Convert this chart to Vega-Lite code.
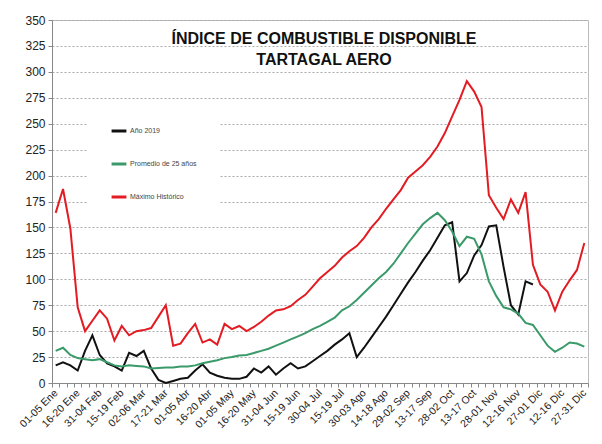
{
  "$schema": "https://vega.github.io/schema/vega-lite/v6.json",
  "width": 536,
  "height": 363,
  "autosize": "none",
  "padding": {"left": 52, "top": 20, "right": 14, "bottom": 61},
  "background": "white",
  "title": {
    "text": ["ÍNDICE DE COMBUSTIBLE DISPONIBLE", "TARTAGAL AERO"],
    "font": "Liberation Sans",
    "fontSize": 16,
    "fontWeight": "bold",
    "color": "#111111",
    "anchor": "middle",
    "baseline": "top",
    "lineHeight": 21,
    "offset": -54,
    "dx": 4
  },
  "data": {
    "values": [
      {"p": "01-05 Ene", "Año 2019": 17, "Promedio de 25 años": 31, "Máximo Histórico": 164},
      {"p": "06-10 Ene", "Año 2019": 20, "Promedio de 25 años": 34, "Máximo Histórico": 187},
      {"p": "11-15 Ene", "Año 2019": 17, "Promedio de 25 años": 27, "Máximo Histórico": 149},
      {"p": "16-20 Ene", "Año 2019": 12, "Promedio de 25 años": 24, "Máximo Histórico": 73},
      {"p": "21-25 Ene", "Año 2019": 31, "Promedio de 25 años": 23, "Máximo Histórico": 50},
      {"p": "26-30 Ene", "Año 2019": 46, "Promedio de 25 años": 22, "Máximo Histórico": 60},
      {"p": "31-04 Feb", "Año 2019": 27, "Promedio de 25 años": 23, "Máximo Histórico": 70},
      {"p": "05-09 Feb", "Año 2019": 19, "Promedio de 25 años": 20, "Máximo Histórico": 62},
      {"p": "10-14 Feb", "Año 2019": 16, "Promedio de 25 años": 17, "Máximo Histórico": 41},
      {"p": "15-19 Feb", "Año 2019": 12, "Promedio de 25 años": 16, "Máximo Histórico": 55},
      {"p": "20-24 Feb", "Año 2019": 29, "Promedio de 25 años": 17, "Máximo Histórico": 46},
      {"p": "25-01 Mar", "Año 2019": 26, "Promedio de 25 años": 16.5, "Máximo Histórico": 50},
      {"p": "02-06 Mar", "Año 2019": 31, "Promedio de 25 años": 16, "Máximo Histórico": 51},
      {"p": "07-11 Mar", "Año 2019": 14, "Promedio de 25 años": 14, "Máximo Histórico": 53},
      {"p": "12-16 Mar", "Año 2019": 3, "Promedio de 25 años": 14.5, "Máximo Histórico": 64},
      {"p": "17-21 Mar", "Año 2019": 0, "Promedio de 25 años": 15, "Máximo Histórico": 75},
      {"p": "22-26 Mar", "Año 2019": 2, "Promedio de 25 años": 15, "Máximo Histórico": 36},
      {"p": "27-31 Mar", "Año 2019": 4, "Promedio de 25 años": 16, "Máximo Histórico": 38},
      {"p": "01-05 Abr", "Año 2019": 5, "Promedio de 25 años": 16, "Máximo Histórico": 48},
      {"p": "06-10 Abr", "Año 2019": 12, "Promedio de 25 años": 17, "Máximo Histórico": 57},
      {"p": "11-15 Abr", "Año 2019": 18, "Promedio de 25 años": 19, "Máximo Histórico": 39},
      {"p": "16-20 Abr", "Año 2019": 10, "Promedio de 25 años": 20.5, "Máximo Histórico": 42},
      {"p": "21-25 Abr", "Año 2019": 7, "Promedio de 25 años": 22, "Máximo Histórico": 37},
      {"p": "26-30 Abr", "Año 2019": 5, "Promedio de 25 años": 24, "Máximo Histórico": 57},
      {"p": "01-05 May", "Año 2019": 4, "Promedio de 25 años": 25, "Máximo Histórico": 52},
      {"p": "06-10 May", "Año 2019": 4, "Promedio de 25 años": 26.5, "Máximo Histórico": 55},
      {"p": "11-15 May", "Año 2019": 6, "Promedio de 25 años": 27, "Máximo Histórico": 50},
      {"p": "16-20 May", "Año 2019": 14, "Promedio de 25 años": 29, "Máximo Histórico": 54},
      {"p": "21-25 May", "Año 2019": 10, "Promedio de 25 años": 31, "Máximo Histórico": 59},
      {"p": "26-30 May", "Año 2019": 16, "Promedio de 25 años": 33, "Máximo Histórico": 65},
      {"p": "31-04 Jun", "Año 2019": 8, "Promedio de 25 años": 36, "Máximo Histórico": 70},
      {"p": "05-09 Jun", "Año 2019": 14, "Promedio de 25 años": 39, "Máximo Histórico": 71},
      {"p": "10-14 Jun", "Año 2019": 19, "Promedio de 25 años": 42, "Máximo Histórico": 74},
      {"p": "15-19 Jun", "Año 2019": 14, "Promedio de 25 años": 45, "Máximo Histórico": 80},
      {"p": "20-24 Jun", "Año 2019": 16, "Promedio de 25 años": 48, "Máximo Histórico": 85},
      {"p": "25-29 Jun", "Año 2019": 21, "Promedio de 25 años": 52, "Máximo Histórico": 93},
      {"p": "30-04 Jul", "Año 2019": 26, "Promedio de 25 años": 55, "Máximo Histórico": 101},
      {"p": "05-09 Jul", "Año 2019": 31, "Promedio de 25 años": 59, "Máximo Histórico": 107},
      {"p": "10-14 Jul", "Año 2019": 37, "Promedio de 25 años": 63, "Máximo Histórico": 113},
      {"p": "15-19 Jul", "Año 2019": 42, "Promedio de 25 años": 70, "Máximo Histórico": 121},
      {"p": "20-24 Jul", "Año 2019": 48, "Promedio de 25 años": 74, "Máximo Histórico": 127},
      {"p": "25-29 Jul", "Año 2019": 25, "Promedio de 25 años": 80, "Máximo Histórico": 132},
      {"p": "30-03 Ago", "Año 2019": 34, "Promedio de 25 años": 87, "Máximo Histórico": 140},
      {"p": "04-08 Ago", "Año 2019": 44, "Promedio de 25 años": 94, "Máximo Histórico": 150},
      {"p": "09-13 Ago", "Año 2019": 54, "Promedio de 25 años": 101, "Máximo Histórico": 158},
      {"p": "14-18 Ago", "Año 2019": 64, "Promedio de 25 años": 107, "Máximo Histórico": 168},
      {"p": "19-23 Ago", "Año 2019": 75, "Promedio de 25 años": 115, "Máximo Histórico": 177},
      {"p": "24-28 Ago", "Año 2019": 86, "Promedio de 25 años": 125, "Máximo Histórico": 186},
      {"p": "29-02 Sep", "Año 2019": 97, "Promedio de 25 años": 135, "Máximo Histórico": 198},
      {"p": "03-07 Sep", "Año 2019": 107, "Promedio de 25 años": 144, "Máximo Histórico": 204},
      {"p": "08-12 Sep", "Año 2019": 118, "Promedio de 25 años": 153, "Máximo Histórico": 210},
      {"p": "13-17 Sep", "Año 2019": 128, "Promedio de 25 años": 159, "Máximo Histórico": 218},
      {"p": "18-22 Sep", "Año 2019": 140, "Promedio de 25 años": 164, "Máximo Histórico": 228},
      {"p": "23-27 Sep", "Año 2019": 152, "Promedio de 25 años": 157, "Máximo Histórico": 241},
      {"p": "28-02 Oct", "Año 2019": 155, "Promedio de 25 años": 146, "Máximo Histórico": 257},
      {"p": "03-07 Oct", "Año 2019": 98, "Promedio de 25 años": 132, "Máximo Histórico": 273},
      {"p": "08-12 Oct", "Año 2019": 106, "Promedio de 25 años": 141, "Máximo Histórico": 291},
      {"p": "13-17 Oct", "Año 2019": 123, "Promedio de 25 años": 139, "Máximo Histórico": 281},
      {"p": "18-22 Oct", "Año 2019": 133, "Promedio de 25 años": 124, "Máximo Histórico": 266},
      {"p": "23-27 Oct", "Año 2019": 151, "Promedio de 25 años": 98, "Máximo Histórico": 181},
      {"p": "28-01 Nov", "Año 2019": 152, "Promedio de 25 años": 84, "Máximo Histórico": 169},
      {"p": "02-06 Nov", "Año 2019": 112, "Promedio de 25 años": 73, "Máximo Histórico": 158},
      {"p": "07-11 Nov", "Año 2019": 75, "Promedio de 25 años": 71, "Máximo Histórico": 177},
      {"p": "12-16 Nov", "Año 2019": 66, "Promedio de 25 años": 67, "Máximo Histórico": 164},
      {"p": "17-21 Nov", "Año 2019": 98, "Promedio de 25 años": 58, "Máximo Histórico": 184},
      {"p": "22-26 Nov", "Año 2019": 95, "Promedio de 25 años": 56, "Máximo Histórico": 114},
      {"p": "27-01 Dic", "Promedio de 25 años": 46, "Máximo Histórico": 95},
      {"p": "02-06 Dic", "Promedio de 25 años": 36, "Máximo Histórico": 88},
      {"p": "07-11 Dic", "Promedio de 25 años": 30, "Máximo Histórico": 70},
      {"p": "12-16 Dic", "Promedio de 25 años": 34, "Máximo Histórico": 88},
      {"p": "17-21 Dic", "Promedio de 25 años": 39, "Máximo Histórico": 99},
      {"p": "22-26 Dic", "Promedio de 25 años": 38, "Máximo Histórico": 109},
      {"p": "27-31 Dic", "Promedio de 25 años": 35, "Máximo Histórico": 135}
    ]
  },
  "transform": [
    {"fold": ["Año 2019", "Promedio de 25 años", "Máximo Histórico"], "as": ["serie", "valor"]}
  ],
  "mark": {"type": "line", "strokeWidth": 2},
  "encoding": {
    "x": {
      "field": "p",
      "type": "nominal",
      "sort": null,
      "scale": {"type": "band", "paddingInner": 0, "paddingOuter": 0},
      "axis": {
        "title": null,
        "labelExpr": "indexof(domain('x'), datum.value) % 3 == 0 ? datum.value : ''",
        "labelOverlap": false,
        "labelAngle": -45,
        "labelAlign": "right",
        "labelBaseline": "middle",
        "labelFont": "Liberation Sans",
        "labelFontSize": 10.5,
        "labelColor": "#222222",
        "labelPadding": 4,
        "tickBand": "extent",
        "tickSize": 4,
        "tickColor": "#888888",
        "domainColor": "#888888",
        "grid": false
      }
    },
    "y": {
      "field": "valor",
      "type": "quantitative",
      "scale": {"domain": [0, 350], "nice": false},
      "axis": {
        "title": null,
        "values": [0, 25, 50, 75, 100, 125, 150, 175, 200, 225, 250, 275, 300, 325, 350],
        "labelFont": "Liberation Sans",
        "labelFontSize": 12,
        "labelColor": "#222222",
        "labelPadding": 3,
        "tickSize": 4,
        "tickColor": "#888888",
        "domainColor": "#888888",
        "grid": true,
        "gridColor": "#aaaaaa",
        "gridDash": [2, 2],
        "gridWidth": 1
      }
    },
    "color": {
      "field": "serie",
      "type": "nominal",
      "scale": {
        "domain": ["Año 2019", "Promedio de 25 años", "Máximo Histórico"],
        "range": ["#111111", "#3a9a6a", "#e31b22"]
      },
      "legend": {
        "title": null,
        "orient": "none",
        "legendX": 36,
        "legendY": 80,
        "symbolType": "stroke",
        "symbolStrokeWidth": 3,
        "symbolSize": 220,
        "labelFont": "Liberation Sans",
        "labelFontSize": 7,
        "labelColor": "#444444",
        "rowPadding": 18,
        "fillColor": "white",
        "padding": 22,
        "labelOffset": 2
      }
    }
  },
  "config": {
    "view": {"stroke": "#bbbbbb", "strokeWidth": 1}
  }
}
